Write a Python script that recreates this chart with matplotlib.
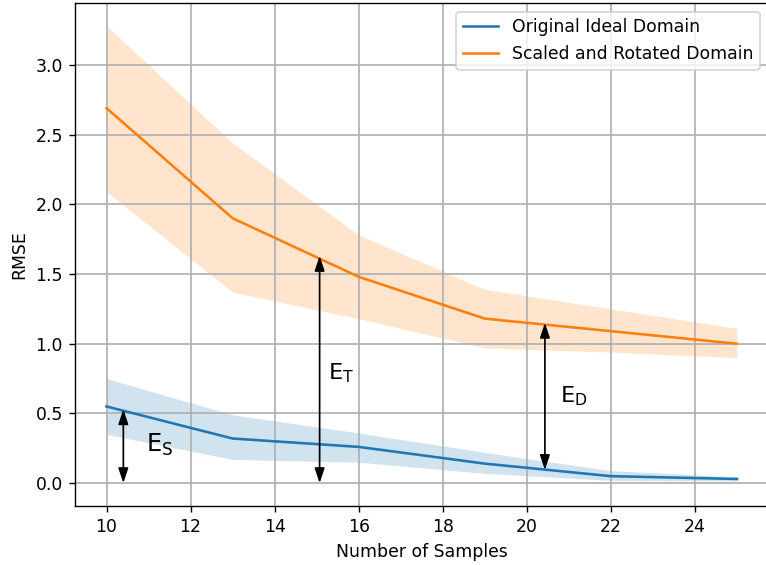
import matplotlib
matplotlib.use("Agg")
import matplotlib.pyplot as plt
import numpy as np

samples = [10, 13, 16, 19, 22, 25]
ideal_mean = [0.55, 0.32, 0.26, 0.14, 0.05, 0.03]
ideal_upper = [0.75, 0.49, 0.36, 0.22, 0.09, 0.045]
ideal_lower = [0.35, 0.17, 0.15, 0.07, 0.02, 0.015]
scaled_mean = [2.69, 1.90, 1.48, 1.18, 1.09, 1.00]
scaled_upper = [3.28, 2.44, 1.78, 1.39, 1.25, 1.11]
scaled_lower = [2.09, 1.37, 1.18, 0.97, 0.94, 0.90]

series_labels = ["Original Ideal Domain", "Scaled and Rotated Domain"]

# annotation arrows: (x, y_low, y_high), label, label position
arrow_x = [10.4, 15.07, 20.43]
arrow_low = [0.0, 0.0, 0.094]
arrow_high = [0.53, 1.63, 1.15]
arrow_text = [r"$\mathrm{E_S}$", r"$\mathrm{E_T}$", r"$\mathrm{E_D}$"]
text_x = [10.93, 15.28, 20.79]
text_y = [0.224, 0.743, 0.577]
text_size = [14, 13, 13]

dpi = 124
fig = plt.figure(figsize=(766 / dpi, 565 / dpi), dpi=dpi)
ax = fig.add_axes([75 / 766, 1 - 506 / 565, (768.5 - 75) / 766, (506 - 3) / 565])

ax.plot(samples, ideal_mean, color="tab:blue", label=series_labels[0])
ax.fill_between(samples, ideal_lower, ideal_upper, color="tab:blue", alpha=0.2, linewidth=0)
ax.plot(samples, scaled_mean, color="tab:orange", label=series_labels[1])
ax.fill_between(samples, scaled_lower, scaled_upper, color="tab:orange", alpha=0.2, linewidth=0)

for x, lo, hi, t, tx, ty, fs in zip(arrow_x, arrow_low, arrow_high, arrow_text, text_x, text_y, text_size):
    ax.annotate("", xy=(x, hi), xytext=(x, lo),
                arrowprops=dict(arrowstyle="<|-|>,head_length=0.45,head_width=0.15",
                                color="black", lw=1, shrinkA=0, shrinkB=0,
                                mutation_scale=16))
    ax.text(tx, ty, t, fontsize=fs, ha="left", va="baseline")

ax.set_xticks([10, 12, 14, 16, 18, 20, 22, 24])
ax.set_yticks([0.0, 0.5, 1.0, 1.5, 2.0, 2.5, 3.0])
ax.set_xlim(9.25, 25.75)
ax.set_ylim(-0.164, 3.444)
ax.grid(True, linewidth=1.0)
ax.set_xlabel("Number of Samples")
ax.set_ylabel("RMSE")
ax.legend(loc="upper right")

fig.savefig("out.png", dpi=dpi)
